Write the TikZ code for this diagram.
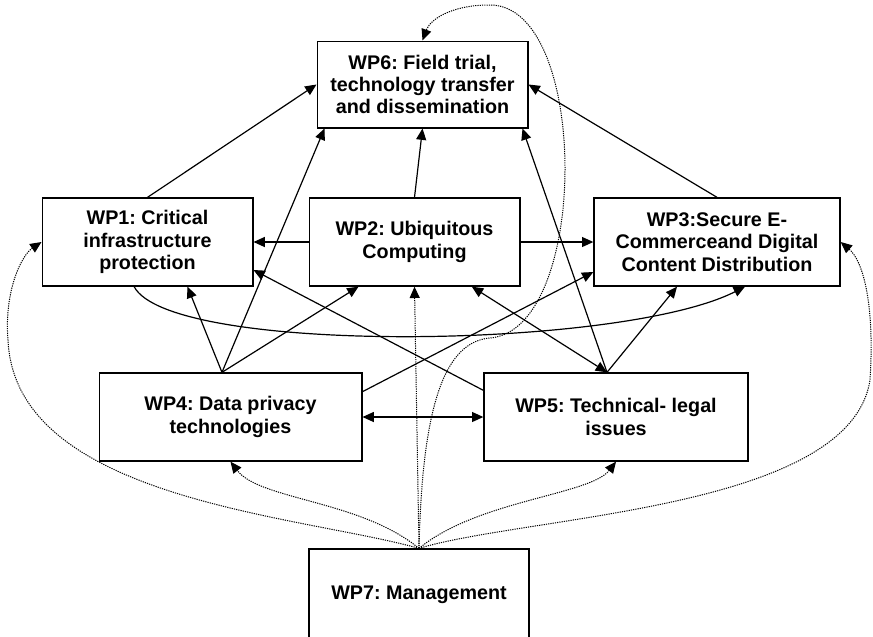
\documentclass[tikz,border=0pt]{standalone}
\usepackage{fontspec}
\setmainfont{Liberation Sans}
\usetikzlibrary{arrows.meta}
\frenchspacing

\tikzset{
  wp/.style={draw, line width=1pt, align=center, inner sep=2pt,
    font=\fontsize{14.8}{16.8}\selectfont\bfseries},
  link/.style={line width=0.9pt},
  mgmt/.style={line width=0.75pt, dash pattern=on 0.9pt off 0.8pt},
}

\begin{document}
\begin{tikzpicture}[x=0.75pt, y=-0.75pt, >={Triangle[length=8.5pt,width=7.5pt]}]

    % Khung hình
    \useasboundingbox (0,0) rectangle (873,636);

    % Các gói công việc
    \node[wp, minimum width=158pt, minimum height=65pt] (wp6) at (422.5,84.5) {WP6: Field trial,\\technology transfer\\and dissemination};
    \node[wp, minimum width=158pt, minimum height=66pt] (wp1) at (147.5,242) {WP1: Critical\\infrastructure\\protection};
    \node[wp, minimum width=158pt, minimum height=66pt] (wp2) at (414.5,242) {WP2: Ubiquitous\\Computing};
    \node[wp, minimum width=184.5pt, minimum height=66pt] (wp3) at (717,242) {WP3:Secure E-\\Commerceand Digital\\Content Distribution};
    \node[wp, minimum width=197pt, minimum height=66pt] (wp4) at (230.5,417) {WP4: Data privacy\\technologies};
    \node[wp, minimum width=198pt, minimum height=66pt] (wp5) at (616,417) {WP5: Technical- legal\\issues};
    \node[wp, minimum width=165pt, minimum height=69pt] (wp7) at (419,595) {WP7: Management};

    % Điểm xuất phát chung
    \coordinate (wp4top) at ([xshift=-6.4pt]wp4.north);
    \coordinate (wp5top) at ([xshift=-6.75pt]wp5.north);

    % Các mũi tên liền
    \draw[link,->] (wp1.north) -- (wp6.west);
    \draw[link,->] (wp2.north) -- (wp6.south);
    \draw[link,->] (wp3.north) -- (wp6.east);
    \draw[link,->] (wp2.west) -- (wp1.east);
    \draw[link,->] (wp2.east) -- (wp3.west);
    \draw[link,->] ([xshift=-10pt]wp1.south) .. controls (170,355) and (620,350) .. ([xshift=21pt]wp3.south);
    \draw[link,->] (wp4top) -- ([xshift=30pt]wp1.south);
    \draw[link,->] (wp4top) -- ([xshift=-42pt]wp2.south);
    \draw[link,->] (wp4top) -- ([xshift=6pt]wp6.south west);
    \draw[link,->] ([yshift=19pt]wp4.east) -- ([yshift=-22.5pt]wp3.west);
    \draw[link,<->] (wp4.east) -- (wp5.west);
    \draw[link,->] (wp5top) -- ([xshift=-30pt]wp3.south);
    \draw[link,<->] (wp5top) -- ([xshift=43pt]wp2.south);
    \draw[link,->] (wp5top) -- ([xshift=-4.5pt]wp6.south east);
    \draw[link,->] ([yshift=20pt]wp5.west) -- ([yshift=-21pt]wp1.east);

    % Các mũi tên chấm từ WP7
    \draw[mgmt,->] (wp7.north) -- (wp2.south);
    \draw[mgmt,->] (wp7.north) .. controls (360,500) and (260,500) .. (wp4.south);
    \draw[mgmt,->] (wp7.north) .. controls (478,500) and (590,495) .. (wp5.south);
    \draw[mgmt,->] (wp7.north) .. controls (300,515) and (15,500) .. (8,340)
        .. controls (4,290) and (22,255) .. (wp1.west);
    \draw[mgmt,->] (wp7.north) .. controls (530,515) and (850,510) .. (870,380)
        .. controls (875,300) and (862,260) .. (wp3.east);
    \draw[mgmt,->] (wp7.north) .. controls (422,420) and (440,342) .. (490,338)
        .. controls (590,330) and (590,5) .. (490,5)
        .. controls (450,5) and (430,20) .. (wp6.north);

\end{tikzpicture}
\end{document}
